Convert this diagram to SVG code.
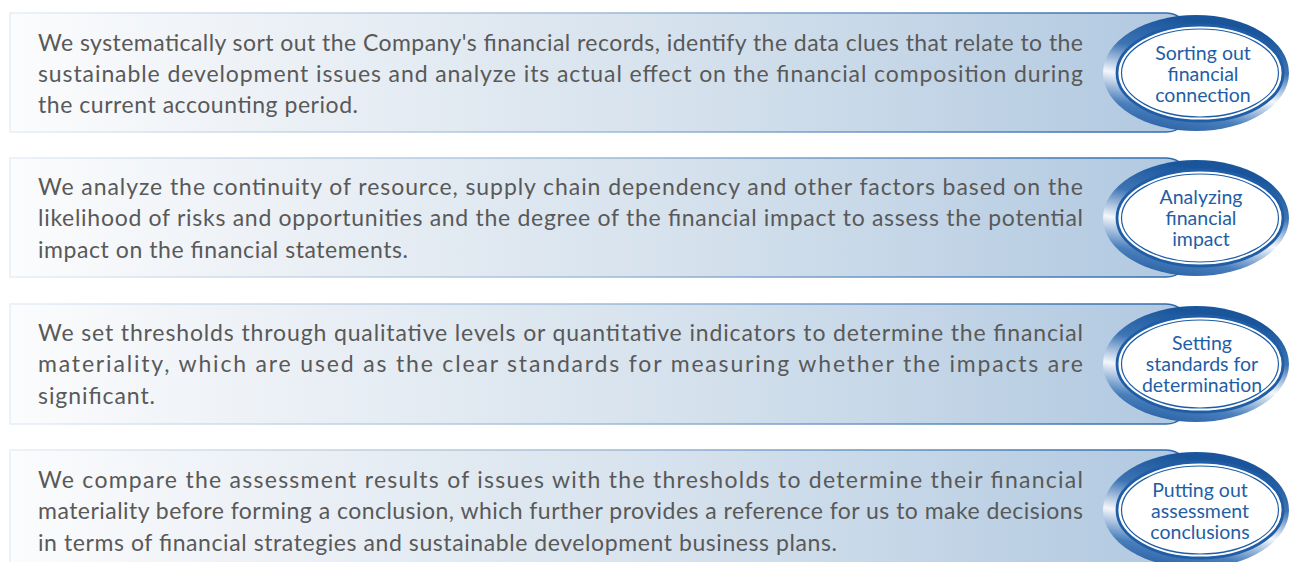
<svg xmlns="http://www.w3.org/2000/svg" width="1290" height="562" viewBox="0 0 1290 562">
<defs>
<linearGradient id="bandFill" x1="0" y1="0" x2="1" y2="0">
<stop offset="0" stop-color="#fbfcfd"/>
<stop offset="0.15" stop-color="#f1f4f8"/>
<stop offset="0.6" stop-color="#d3e0ec"/>
<stop offset="1" stop-color="#b0c8e0"/>
</linearGradient>
<linearGradient id="bandEdge" x1="0" y1="0" x2="1" y2="0">
<stop offset="0" stop-color="#e8eef6"/>
<stop offset="0.5" stop-color="#9fbcd9"/>
<stop offset="1" stop-color="#2d68ab"/>
</linearGradient>
<linearGradient id="ring" x1="0.3" y1="0" x2="0" y2="1">
<stop offset="0" stop-color="#1a559b"/>
<stop offset="0.28" stop-color="#3d74b4"/>
<stop offset="0.52" stop-color="#f4f7fb"/>
<stop offset="0.75" stop-color="#4a7fbc"/>
<stop offset="1" stop-color="#17519a"/>
</linearGradient>
<style>
.band{fill:url(#bandFill);stroke:url(#bandEdge);stroke-width:1.5}
.body{font-family:Lato,"Source Sans Pro","Liberation Sans",sans-serif;font-size:23px;fill:#595959}
.ring{fill:url(#ring)}
.inner{fill:#ffffff;stroke:#1f5ea6;stroke-width:2.8}
.inner2{fill:none;stroke:#1f5ea6;stroke-width:1.2}
.lbl{font-family:Lato,"Source Sans Pro","Liberation Sans",sans-serif;font-size:19.5px;fill:#1f5ea6;text-anchor:middle}
</style>
</defs>
<rect width="1290" height="562" fill="#ffffff"/>

<g id="step1">
<path class="band" d="M10,13 H1166 A24,24 0 0 1 1190,37 V108 A24,24 0 0 1 1166,132 H10 Z"/>
<text class="body" x="38" y="51" textLength="1045" lengthAdjust="spacing">We systematically sort out the Company's financial records, identify the data clues that relate to the</text>
<text class="body" x="38" y="82" textLength="1045" lengthAdjust="spacing">sustainable development issues and analyze its actual effect on the financial composition during</text>
<text class="body" x="38" y="113" textLength="320" lengthAdjust="spacing">the current accounting period.</text>
<ellipse class="ring" cx="1196" cy="73" rx="93" ry="58"/>
<ellipse class="inner" cx="1200" cy="73" rx="83" ry="48"/>
<ellipse class="inner2" cx="1200" cy="73" rx="78.5" ry="44"/>
<text class="lbl" x="1203" y="60">Sorting out</text>
<text class="lbl" x="1203" y="81">financial</text>
<text class="lbl" x="1203" y="102">connection</text>
</g>

<g id="step2">
<path class="band" d="M10,158 H1166 A24,24 0 0 1 1190,182 V253 A24,24 0 0 1 1166,277 H10 Z"/>
<text class="body" x="38" y="195" textLength="1045" lengthAdjust="spacing">We analyze the continuity of resource, supply chain dependency and other factors based on the</text>
<text class="body" x="38" y="226" textLength="1045" lengthAdjust="spacing">likelihood of risks and opportunities and the degree of the financial impact to assess the potential</text>
<text class="body" x="38" y="258" textLength="370" lengthAdjust="spacing">impact on the financial statements.</text>
<ellipse class="ring" cx="1196" cy="218" rx="93" ry="58"/>
<ellipse class="inner" cx="1200" cy="218" rx="83" ry="48"/>
<ellipse class="inner2" cx="1200" cy="218" rx="78.5" ry="44"/>
<text class="lbl" x="1201" y="204">Analyzing</text>
<text class="lbl" x="1201" y="225">financial</text>
<text class="lbl" x="1201" y="246">impact</text>
</g>

<g id="step3">
<path class="band" d="M10,304 H1166 A24,24 0 0 1 1190,328 V400 A24,24 0 0 1 1166,424 H10 Z"/>
<text class="body" x="38" y="341" textLength="1045" lengthAdjust="spacing">We set thresholds through qualitative levels or quantitative indicators to determine the financial</text>
<text class="body" x="38" y="372" textLength="1045" lengthAdjust="spacing">materiality, which are used as the clear standards for measuring whether the impacts are</text>
<text class="body" x="38" y="404" textLength="117" lengthAdjust="spacing">significant.</text>
<ellipse class="ring" cx="1196" cy="364" rx="93" ry="58"/>
<ellipse class="inner" cx="1200" cy="364" rx="83" ry="48"/>
<ellipse class="inner2" cx="1200" cy="364" rx="78.5" ry="44"/>
<text class="lbl" x="1202" y="350">Setting</text>
<text class="lbl" x="1202" y="371">standards for</text>
<text class="lbl" x="1202" y="392" textLength="120" lengthAdjust="spacingAndGlyphs">determination</text>
</g>

<g id="step4">
<path class="band" d="M10,450 H1166 A24,24 0 0 1 1190,474 V560 A24,24 0 0 1 1166,584 H10 Z"/>
<text class="body" x="38" y="488" textLength="1045" lengthAdjust="spacing">We compare the assessment results of issues with the thresholds to determine their financial</text>
<text class="body" x="38" y="519" textLength="1045" lengthAdjust="spacing">materiality before forming a conclusion, which further provides a reference for us to make decisions</text>
<text class="body" x="38" y="551" textLength="799" lengthAdjust="spacing">in terms of financial strategies and sustainable development business plans.</text>
<ellipse class="ring" cx="1196" cy="510" rx="93" ry="58"/>
<ellipse class="inner" cx="1200" cy="510" rx="83" ry="48"/>
<ellipse class="inner2" cx="1200" cy="510" rx="78.5" ry="44"/>
<text class="lbl" x="1200" y="497">Putting out</text>
<text class="lbl" x="1200" y="518">assessment</text>
<text class="lbl" x="1200" y="539">conclusions</text>
</g>

<g id="connectors"></g>
</svg>
